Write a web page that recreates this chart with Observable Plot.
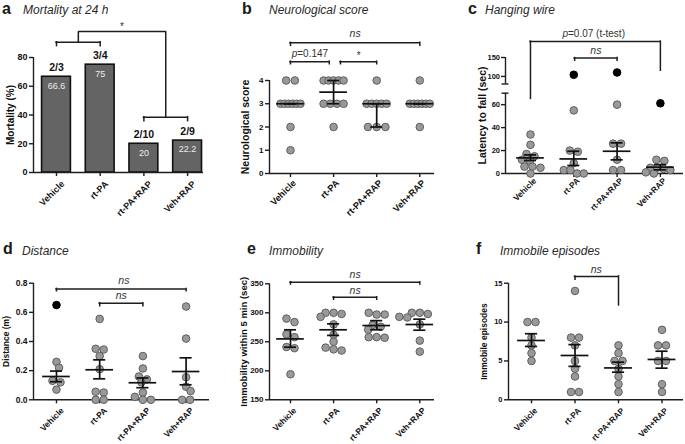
<!DOCTYPE html>
<html><head><meta charset="utf-8">
<script src="https://cdn.jsdelivr.net/npm/d3@7"></script>
<script src="https://cdn.jsdelivr.net/npm/@observablehq/plot@0.6"></script>
<style>
body{margin:0;background:#fff;}
#fig{position:relative;width:685px;height:444px;overflow:hidden;background:#fff;font-family:"Liberation Sans",Arial,Helvetica,sans-serif;}
.panel{position:absolute;}
.panel svg{position:absolute;left:0;top:0;}
.t{position:absolute;white-space:nowrap;line-height:1;color:#1a1a1a;}
</style>
</head><body><div id="fig"></div>
<script>
const FONT = "'Liberation Sans', Arial, Helvetica, sans-serif";
const INK = "#1e1e1e";

// ---------- data ----------
const groupsAll = ["Vehicle", "rt-PA", "rt-PA+RAP", "Veh+RAP"];

// a: mortality
const mortality = [66.6, 75, 20, 22.2];
const deaths = ["2/3", "3/4", "2/10", "2/9"];

// b: neurological score (median, interquartile range)
const neuroVehicle = [4, 4, 3, 3, 3, 3, 3, 3, 2, 1];
const neuroRtPA = [4, 4, 4, 4, 4, 3, 3, 3, 3, 2];
const neuroRtPARAP = [4, 3, 3, 3, 3, 3, 2, 2, 2];
const neuroVehRAP = [4, 3, 3, 3, 3, 3, 3, 2];
const neuroMedian = [3, 3.5, 3, 3];
const neuroQ1 = [3, 3, 2, 3];
const neuroQ3 = [3, 4, 3, 3];

// c: hanging wire (mean ± SEM), black dots = outliers
const wireVehicle = [34, 25, 17, 15, 12, 11, 6, 6, 5, 0];
const wireRtPA = [55, 20, 19, 9, 3, 3, 0, 0];
const wireRtPARAP = [60, 26, 26, 12, 3, 3];
const wireVehRAP = [12, 11, 5, 5, 4, 3, 1, 0];
const wireOutliers = [null, 104.5, 110.5, 61.2];
const wireMean = [13.6, 12.7, 19.4, 5.5];
const wireLow = [11.3, 7, 11.9, 3.2];
const wireHigh = [16.2, 19.4, 26.7, 7.8];

// d: distance
const distVehicle = [0.26, 0.22, 0.13, 0.12, 0.07];
const distRtPA = [0.555, 0.35, 0.345, 0.30, 0.21, 0.055, 0.05, 0, 0];
const distRtPARAP = [0.30, 0.215, 0.16, 0.14, 0.12, 0.05, 0.02, 0, 0];
const distVehRAP = [0.64, 0.42, 0.155, 0.09, 0.06, 0, 0];
const distOutliers = [0.65, null, null, null];
const distMean = [0.16, 0.206, 0.117, 0.194];
const distLow = [0.124, 0.144, 0.083, 0.103];
const distHigh = [0.197, 0.274, 0.15, 0.288];

// e: immobility
const immVehicle = [290, 284, 263, 258, 241, 239, 194];
const immRtPA = [300, 300, 298, 293, 280, 262, 250, 240, 237, 235];
const immRtPARAP = [300, 297, 297, 279, 276, 271, 258, 258, 257];
const immVehRAP = [300, 300, 298, 293, 292, 280, 252, 233];
const immMean = [255, 270.7, 278, 279.8];
const immLow = [240.7, 261, 270.7, 270];
const immHigh = [270.7, 281, 286.5, 289];

// f: immobile episodes
const epiVehicle = [10, 10, 8, 7, 6, 5];
const epiRtPA = [14, 8, 8, 7, 5, 4, 3, 1, 1];
const epiRtPARAP = [7, 6, 5, 5, 4, 3, 2, 1];
const epiVehRAP = [9, 7, 7, 5, 5, 2, 1];
const epiMean = [7.63, 5.7, 4.1, 5.19];
const epiLow = [6.86, 4.3, 3.55, 4.07];
const epiHigh = [8.5, 7.1, 4.84, 6.25];

// significance brackets (group index positions, heights in data units)
const bracketsA = [
  {from: 0, to: 1, y: 90.6, left: 87.9, right: 87.9},
  {from: 2, to: 3, y: 38.5, left: 35.7, right: 35.7}
];
const bracketsATop = 98.1, starA = "*", starAY = 101.5;
const bracketsB = [
  {from: 0, to: 3, y: 5.62, left: 5.49, right: 5.49, label: "ns", ly: 6.02},
  {from: 0, to: 0.9, y: 4.81, left: 4.7, right: 4.7, label: "p=0.147", ly: 5.15},
  {from: 1.16, to: 2.0, y: 4.81, left: 4.7, right: 4.7, label: "*", ly: 5.05}
];
const bracketsC = [
  {from: 0, to: 3, y: 192, left: 65, right: 115, label: "p=0.07 (t-test)", ly: 212, lx: 1.46},
  {from: 1.02, to: 2.0, y: 148.5, left: 141.5, right: 141.5, label: "ns", ly: 169}
];
const bracketsD = [
  {from: 0, to: 3, y: 0.761, left: 0.745, right: 0.745, label: "ns", ly: 0.815, lx: 1.56},
  {from: 1, to: 2, y: 0.663, left: 0.642, right: 0.642, label: "ns", ly: 0.712}
];
const bracketsE = [
  {from: 0, to: 3, y: 352.8, left: 348.8, right: 348.8, label: "ns", ly: 366},
  {from: 1, to: 2, y: 326.9, left: 322.4, right: 322.4, label: "ns", ly: 339}
];
const bracketsF = [
  {from: 1, to: 2, y: 15.87, left: 15.44, right: 12.14, label: "ns", ly: 16.7, lx: 1.49}
];

// ---------- helpers ----------
const fig = document.getElementById("fig");

function swarmOffsets(vals, pxY, o = {}) {
  const minD = o.minD ?? 6.2, maxStep = o.maxStep ?? 8, span = o.span ?? 20, tol = o.tol ?? 3.5, step = o.step ?? 0.5;
  const idx = d3.range(vals.length).sort((a, b) => vals[b] - vals[a]);
  const rows = [];
  for (const i of idx) {
    const last = rows[rows.length - 1];
    if (last && Math.abs(vals[last[0]] - vals[i]) * pxY < tol) last.push(i); else rows.push([i]);
  }
  const placed = [], off = [];
  for (const row of rows) {
    const n = row.length, s = n > 1 ? Math.min(maxStep, span / (n - 1)) : 0;
    const base = row.map((_, k) => (k - (n - 1) / 2) * s);
    const ys = row.map(i => vals[i] * pxY);
    let shift = 0;
    for (let t = 0; t < 400; t++) {
      const c = t === 0 ? 0 : (t % 2 ? 1 : -1) * Math.ceil(t / 2) * step;
      if (base.every((b, k) => placed.every(p => Math.hypot(p.x - b - c, p.y - ys[k]) >= minD))) { shift = c; break; }
    }
    row.forEach((i, k) => { off[i] = base[k] + shift; placed.push({x: off[i], y: ys[k]}); });
  }
  return off;
}

function panelDiv(p) {
  const div = document.createElement("div");
  div.className = "panel";
  div.style.left = p.left + "px"; div.style.top = p.top + "px";
  div.style.width = p.w + "px"; div.style.height = p.h + "px";
  fig.appendChild(div);
  return div;
}

function addTitle(letter, name, lx, tx, baseline, tb) {
  const a = document.createElement("div");
  a.className = "t"; a.textContent = letter;
  a.style.cssText += `left:${lx}px;top:${baseline - 0.8465 * 16}px;font-size:16px;font-weight:bold;`;
  const b = document.createElement("div");
  b.className = "t"; b.textContent = name;
  b.style.cssText += `left:${tx}px;top:${(tb ?? baseline) - 0.8465 * 12}px;font-size:12px;font-style:italic;color:#2a2a2a;`;
  fig.append(a, b);
}

function bracketMarks(brs, brk = v => v) {
  const B = brs.map(b => ({...b, y: brk(b.y), left: brk(b.left), right: brk(b.right),
    ly: b.ly == null ? null : brk(b.ly), lx: b.lx ?? (b.from + b.to) / 2}));
  const st = {stroke: INK, strokeWidth: 1.5, strokeLinecap: "square"};
  const marks = [
    Plot.ruleY(B, {x1: "from", x2: "to", y: "y", ...st}),
    Plot.ruleX(B, {x: "from", y1: "y", y2: "left", ...st}),
    Plot.ruleX(B, {x: "to", y1: "y", y2: "right", ...st})
  ];
  const lab = B.filter(b => b.label);
  marks.push(Plot.text(lab.filter(b => b.label === "ns"), {x: "lx", y: "ly", text: "label", fontStyle: "italic", fontWeight: "normal", fontSize: 10.5, fill: "#333"}));
  marks.push(Plot.text(lab.filter(b => b.label !== "ns"), {x: "lx", y: "ly", text: "label", fontWeight: "normal", fontSize: 10, fill: "#333"}));
  return marks;
}

function axesMarks(p) {
  const brk = p.brk || (v => v);
  const st = {stroke: INK, strokeWidth: 1.4};
  const marks = [];
  const segs = p.segments || [[p.yDom[0], p.yDom[1]]];
  for (const [a, b] of segs) marks.push(Plot.ruleX([p.xDom[0]], {y1: brk(a), y2: brk(b), ...st}));
  marks.push(Plot.ruleY([p.yDom[0]], {x1: p.xDom[0], x2: p.xDom[1], ...st}));
  marks.push(Plot.axisY({ticks: p.yTicks.map(brk), tickFormat: p.yFormat, tickSize: 4, tickPadding: p.tickPad ?? 2, ...st, label: null}));
  marks.push(Plot.axisX({ticks: [0, 1, 2, 3], tickFormat: () => "", tickSize: 4, ...st, label: null}));
  const cats = groupsAll.map((name, i) => ({i, name}));
  const [cdx, cdy] = p.catOff || [5, 10];
  marks.push(Plot.text(cats, {x: "i", y: p.yDom[0], text: "name", rotate: -45, textAnchor: "end", lineAnchor: "middle",
    dx: cdx, dy: cdy, fontSize: p.catSize || 9, fontWeight: "bold", fill: "#111"}));
  marks.push(Plot.text([p.yLabel], {frameAnchor: "left", rotate: -90, textAnchor: "middle", lineAnchor: "middle",
    dx: p.labelX - p.ml, text: d => d, fontSize: p.labelSize, fontWeight: "bold", fill: "#111"}));
  return marks;
}

function render(p, marks) {
  const div = panelDiv(p);
  const svg = Plot.plot({
    width: p.w, height: p.h, marginLeft: p.ml, marginRight: p.mr, marginTop: p.mt, marginBottom: p.mb,
    x: {type: "linear", domain: p.xDom, label: null},
    y: {type: "linear", domain: p.yDom, label: null},
    style: {fontFamily: FONT, fontSize: "8px", fontWeight: "bold", color: "#111", background: "transparent", overflow: "visible"},
    marks
  });
  if (p.tickSizeY) svg.querySelectorAll('[aria-label="y-axis tick label"]').forEach(g => g.setAttribute("font-size", p.tickSizeY));
  svg.querySelectorAll("text").forEach(t => {
    const s = t.textContent;
    if (s.startsWith("p=")) {
      t.textContent = "";
      const ts = document.createElementNS("http://www.w3.org/2000/svg", "tspan");
      ts.setAttribute("font-style", "italic");
      ts.textContent = "p";
      t.append(ts, document.createTextNode(s.slice(1)));
    }
  });
  div.appendChild(svg);
}

function dotPanel(p) {
  const brk = p.brk || (v => v);
  const pxX = (p.w - p.ml - p.mr) / (p.xDom[1] - p.xDom[0]);
  const pxY = (p.h - p.mt - p.mb) / (p.yDom[1] - p.yDom[0]);
  const pts = [];
  p.groups.forEach((vals, g) => {
    const disp = vals.map(brk);
    const off = swarmOffsets(disp, pxY, p.swarm);
    vals.forEach((v, i) => pts.push({x: g + off[i] / pxX, y: brk(v), out: false}));
    if (p.outliers && p.outliers[g] != null) pts.push({x: g, y: brk(p.outliers[g]), out: true});
  });
  const stats = p.center.map((c, g) => ({g, c: brk(c), lo: brk(p.low[g]), hi: brk(p.high[g])}));
  const eb = {stroke: "#111", strokeWidth: 1.7};
  const marks = [
    ...axesMarks(p),
    ...(p.extra || []),
    Plot.dot(pts.filter(d => !d.out), {x: "x", y: "y", r: 3.8, fill: "#999", stroke: "#5f5f5f", strokeWidth: 1}),
    Plot.dot(pts.filter(d => d.out), {x: "x", y: "y", r: 3.8, fill: "#000", stroke: "#000", strokeWidth: 1}),
    Plot.ruleX(stats, {x: "g", y1: "lo", y2: "hi", ...eb}),
    Plot.ruleY(stats, {x1: d => d.g - 0.32, x2: d => d.g + 0.32, y: "c", ...eb}),
    Plot.ruleY(stats, {x1: d => d.g - 0.14, x2: d => d.g + 0.14, y: "lo", ...eb}),
    Plot.ruleY(stats, {x1: d => d.g - 0.14, x2: d => d.g + 0.14, y: "hi", ...eb}),
    ...bracketMarks(p.brackets, brk)
  ];
  render(p, marks);
}

// ---------- panel a ----------
(function () {
  const p = {left: 0, top: 0, w: 230, h: 220, ml: 33, mr: 27, mt: 57, mb: 48,
    xDom: [-0.526, 3.364], yDom: [0, 80], yTicks: [0, 20, 40, 60, 80],
    yLabel: "Mortality (%)", labelX: 10, labelSize: 10, tickSizeY: 9, catSize: 9, catOff: [6.5, 10]};
  const bars = groupsAll.map((g, i) => ({i, v: mortality[i], ratio: deaths[i]}));
  const b1 = bracketsA[0], b2 = bracketsA[1];
  const m1 = (b1.from + b1.to) / 2, m2 = (b2.from + b2.to) / 2;
  const connector = [{x: m1, y: b1.y}, {x: m1, y: bracketsATop}, {x: m2, y: bracketsATop}, {x: m2, y: b2.y}];
  const marks = [
    Plot.rectY(bars, {x1: d => d.i - 0.33, x2: d => d.i + 0.33, y1: 0, y2: "v", fill: "#646464", stroke: "#111", strokeWidth: 1.6}),
    ...axesMarks(p),
    Plot.text(bars, {x: "i", y: "v", text: d => String(d.v), dy: 9, fill: "#ececec", fontSize: 9, fontWeight: "normal"}),
    Plot.text(bars, {x: "i", y: "v", text: "ratio", dy: -9, fontSize: 10.5, fontWeight: "bold", fill: "#111"}),
    ...bracketMarks(bracketsA),
    Plot.line(connector, {x: "x", y: "y", stroke: INK, strokeWidth: 1.5, strokeLinejoin: "miter"}),
    Plot.text([starA], {x: (m1 + m2) / 2, y: starAY, text: d => d, fontSize: 10, fontWeight: "normal", fill: "#333"})
  ];
  render(p, marks);
})();

// ---------- panel b ----------
dotPanel({left: 230, top: 0, w: 225, h: 220, ml: 39, mr: 21, mt: 80, mb: 47,
  xDom: [-0.487, 3.341], yDom: [0, 4], yTicks: [0, 1, 2, 3, 4], yFormat: d3.format("d"),
  yLabel: "Neurological score", labelX: 15, labelSize: 10.5, tickSizeY: 8, catSize: 9.2, catOff: [4, 8],
  groups: [neuroVehicle, neuroRtPA, neuroRtPARAP, neuroVehRAP],
  center: neuroMedian, low: neuroQ1, high: neuroQ3, brackets: bracketsB,
  swarm: {maxStep: 8.7, span: 20, tol: 1}});

// ---------- panel c (broken axis) ----------
const brkC = v => v <= 75 ? v : 78 + (v - 80) * 0.33;
const ticksC = [0, 20, 40, 60, 100, 150];
const tickMapC = new Map(ticksC.map(v => [brkC(v), v]));
(function () {
  const xDom = [-0.577, 3.534];
  const pxX = 178 / (xDom[1] - xDom[0]);
  const k = 3.5 / pxX;
  dotPanel({left: 455, top: 0, w: 230, h: 220, ml: 50, mr: 2, mt: 57, mb: 47,
    xDom, yDom: [0, brkC(150)], yTicks: ticksC, brk: brkC, yFormat: d => tickMapC.get(d),
    segments: [[0, 70], [80, 150]], tickSizeY: 7.5, tickPad: 1.5, catSize: 8.3, catOff: [4.5, 6],
    extra: [Plot.ruleY([brkC(70), brkC(80)], {x1: xDom[0] - k, x2: xDom[0] + k, stroke: INK, strokeWidth: 1.4})],
    yLabel: "Latency to fall (sec)", labelX: 26.7, labelSize: 10.5,
    groups: [wireVehicle, wireRtPA, wireRtPARAP, wireVehRAP], outliers: wireOutliers,
    center: wireMean, low: wireLow, high: wireHigh, brackets: bracketsC});
})();

// ---------- panel d ----------
dotPanel({left: 0, top: 220, w: 230, h: 224, ml: 33, mr: 21, mt: 62.7, mb: 44.7,
  xDom: [-0.532, 3.542], yDom: [0, 0.8], yTicks: [0, 0.2, 0.4, 0.6, 0.8], yFormat: d3.format(".1f"),
  yLabel: "Distance (m)", labelX: 5.5, labelSize: 8.5, tickSizeY: 8.5, catSize: 8.5, catOff: [6, 9.3],
  groups: [distVehicle, distRtPA, distRtPARAP, distVehRAP], outliers: distOutliers,
  center: distMean, low: distLow, high: distHigh, brackets: bracketsD});

// ---------- panel e ----------
dotPanel({left: 230, top: 220, w: 225, h: 224, ml: 39, mr: 21, mt: 63.3, mb: 44.7,
  xDom: [-0.487, 3.341], yDom: [150, 350], yTicks: [150, 200, 250, 300, 350],
  yLabel: "Immobility within 5 min (sec)", labelX: 13.3, labelSize: 9.5, tickSizeY: 8, catSize: 8.5, catOff: [4.5, 9.3],
  groups: [immVehicle, immRtPA, immRtPARAP, immVehRAP],
  center: immMean, low: immLow, high: immHigh, brackets: bracketsE});

// ---------- panel f ----------
dotPanel({left: 455, top: 220, w: 230, h: 224, ml: 53, mr: 2, mt: 62.7, mb: 44.7,
  xDom: [-0.529, 3.494], yDom: [0, 15], yTicks: [0, 5, 10, 15],
  yLabel: "Immobile episodes", labelX: 28.3, labelSize: 8.5, tickSizeY: 7.5, catSize: 8.4, catOff: [4.5, 9.5],
  groups: [epiVehicle, epiRtPA, epiRtPARAP, epiVehRAP],
  center: epiMean, low: epiLow, high: epiHigh, brackets: bracketsF});

// ---------- titles ----------
addTitle("a", "Mortality at 24 h", 2, 23, 15, 14);
addTitle("b", "Neurological score", 242, 269, 15, 14);
addTitle("c", "Hanging wire", 468, 485, 15, 14);
addTitle("d", "Distance", 3, 22, 255, 255);
addTitle("e", "Immobility", 247, 269, 255, 255);
addTitle("f", "Immobile episodes", 476, 500, 255, 255);
</script></body></html>
